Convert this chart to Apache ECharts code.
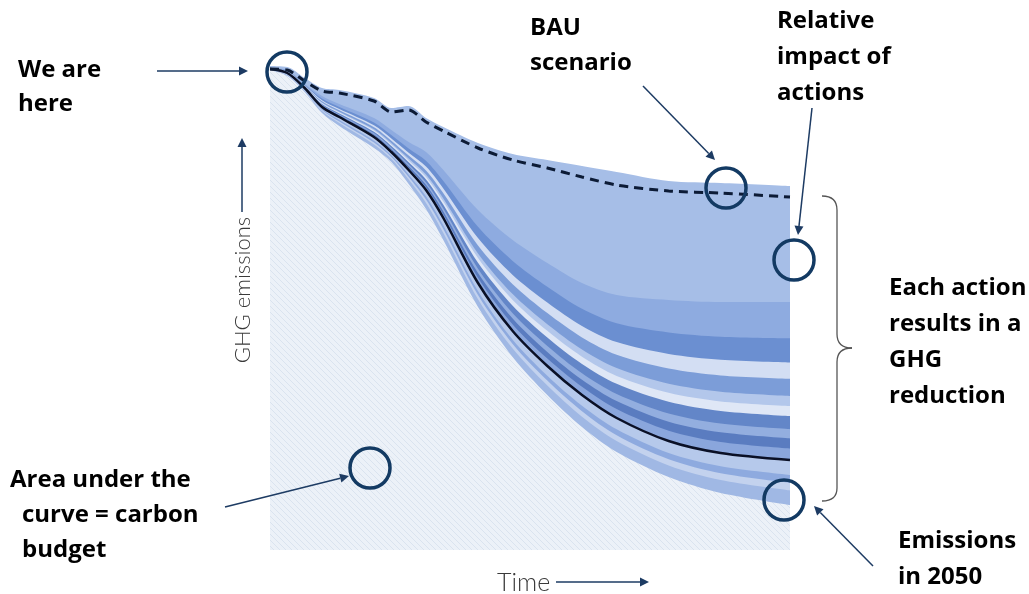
<!DOCTYPE html>
<html><head><meta charset="utf-8">
<script src="https://cdn.jsdelivr.net/npm/echarts@6/dist/echarts.min.js"></script>
<style>html,body{margin:0;padding:0;background:#fff}#c{width:1029px;height:594px}</style>
</head><body><div id="c"></div>
<script>
// x: years, y: GHG emission level (arbitrary units)
const years = [2020, 2021, 2022, 2023, 2024, 2026, 2027, 2028, 2029, 2030, 2032, 2034, 2036, 2038, 2040, 2043, 2046, 2050];

const bauTop  = [484, 483, 472, 462, 460, 452, 442, 444, 432, 423, 407, 396, 390, 384, 378, 369, 367, 364];
const bauLine = [481, 480, 469, 459, 457, 449, 438, 440, 428, 419, 402, 390, 382, 373, 365, 359, 357, 353];
const level1  = [482, 480, 466, 454, 446, 432, 420, 408, 398, 380, 340, 310, 287, 267, 255, 250, 248, 248];
const level2  = [481.8, 479.3, 465.1, 451.5, 443, 427.6, 414.9, 401.6, 389.3, 369, 323.2, 289.1, 263.3, 241.2, 226.7, 217.6, 213.3, 211.7];
const level3  = [481.6, 478.9, 464.5, 449.8, 441, 424.7, 411.6, 397.3, 383.4, 361.6, 312, 275.1, 247.6, 224.1, 207.9, 196, 190.2, 187.5];
const level4  = [481.5, 478.5, 464.1, 448.7, 439.7, 422.8, 409.3, 394.4, 379.5, 356.7, 304.5, 265.8, 236.9, 212.6, 195.2, 181.5, 174.6, 171.2];
const level5  = [481.4, 478.2, 463.6, 447.5, 438.3, 420.7, 406.9, 391.4, 375.4, 351.5, 296.6, 255.9, 225.8, 200.5, 181.9, 166.2, 158.3, 154.1];
const level6  = [481.3, 478, 463.4, 446.8, 437.4, 419.5, 405.5, 389.6, 373, 348.4, 292, 250.1, 219.2, 193.3, 174.1, 157.2, 148.6, 144];
const level7  = [481.3, 477.8, 463.1, 446.1, 436.6, 418.3, 404.1, 387.8, 370.6, 345.3, 287.3, 244.3, 212.6, 186.1, 166.2, 148.2, 139, 133.9];
const level8  = [481.2, 477.6, 462.8, 445.1, 435.5, 416.7, 402.3, 385.5, 367.4, 341.4, 281.2, 236.7, 204.1, 176.8, 156, 136.5, 126.4, 120.8];
const level9  = [481.1, 477.4, 462.5, 444.5, 434.8, 415.6, 401, 383.8, 365.2, 338.6, 277, 231.5, 198.1, 170.3, 148.9, 128.3, 117.7, 111.6];
const level10 = [481.1, 477.2, 462.3, 443.8, 433.9, 414.4, 399.6, 382, 362.8, 335.5, 272.3, 225.6, 191.5, 163.2, 141, 119.3, 108, 101.5];
const levelK  = [481, 477, 462, 443, 433, 413, 398, 380, 360, 332, 267, 219, 184, 155, 132, 109, 97, 90];
const level12 = [480.7, 476, 460.7, 441, 430, 409.3, 394.7, 375.3, 353.7, 324.7, 259, 210.3, 174.3, 144.3, 120.7, 97, 83.7, 75];
const level13 = [480.5, 475.5, 460, 440, 428.5, 407.4, 392.9, 372.9, 350.4, 320.9, 254.9, 205.9, 169.4, 138.8, 114.8, 90.8, 76.8, 67.3];
const level14 = [480.3, 475, 459.3, 438.9, 426.9, 405.6, 391.2, 370.5, 347.1, 317.1, 250.8, 201.4, 164.4, 133.3, 109, 84.6, 69.9, 59.5];
const finalPath = [480, 474, 458, 437, 424, 402, 388, 366, 341, 310, 243, 193, 155, 123, 98, 73, 57, 45];

const bandLevels = [bauTop, level1, level2, level3, level4, level5, level6, level7, level8, level9, level10, levelK, level12, level13, level14];
const bandColors = ['#a6bee7', '#8eabe0', '#6b8fd1', '#d3def3', '#7c9dd8', '#b3c7eb', '#dfe7f6', '#6386c8',
                    '#93aedf', '#5a7cc0', '#8aa6dc', '#b6c9eb', '#8eaadf', '#c3d2ee', '#a0b8e4'];

// hatch pattern for the carbon budget area
const pc = document.createElement('canvas');
pc.width = 6; pc.height = 6;
const g = pc.getContext('2d');
g.fillStyle = '#ecf1f8'; g.fillRect(0, 0, 6, 6);
g.strokeStyle = '#dae3ef'; g.lineWidth = 1;
g.beginPath(); g.moveTo(0, 0); g.lineTo(6, 6); g.moveTo(-3, 3); g.lineTo(3, 9); g.moveTo(3, -3); g.lineTo(9, 3); g.stroke();

const pts = arr => years.map((y, i) => [y, arr[i]]);

const series = bandLevels.map((arr, i) => ({
  type: 'line', name: 'band' + i, data: pts(arr), smooth: 0.3, symbol: 'none', silent: true,
  lineStyle: { opacity: 0 }, areaStyle: { color: bandColors[i], opacity: 1 }, z: 2
}));
series.push({
  type: 'line', name: 'budget', data: pts(finalPath), smooth: 0.3, symbol: 'none', silent: true,
  lineStyle: { opacity: 0 }, areaStyle: { color: { image: pc, repeat: 'repeat' }, opacity: 1 }, z: 2
});
series.push({
  type: 'line', name: 'pathway', data: pts(levelK), smooth: 0.3, symbol: 'none', silent: true,
  lineStyle: { color: '#0a1026', width: 2.5 }, z: 4
});
series.push({
  type: 'line', name: 'BAU', data: pts(bauLine), smooth: 0.25, symbol: 'none', silent: true,
  lineStyle: { color: '#0c1b36', width: 3, type: [9, 6] }, z: 5
});

const NAVY = '#1d3b63', RING = '#133a63';
function arrow(x1, y1, x2, y2) {
  const a = Math.atan2(y2 - y1, x2 - x1), L = 9, W = 4.5;
  const bx = x2 - L * Math.cos(a), by = y2 - L * Math.sin(a);
  return [
    { type: 'line', z: 10, shape: { x1, y1, x2: bx, y2: by }, style: { stroke: NAVY, lineWidth: 1.5 } },
    { type: 'polygon', z: 10, shape: { points: [[x2, y2], [bx + W * Math.sin(a), by - W * Math.cos(a)], [bx - W * Math.sin(a), by + W * Math.cos(a)]] }, style: { fill: NAVY } }
  ];
}
function ring(cx, cy) {
  return { type: 'circle', z: 11, shape: { cx, cy, r: 20 }, style: { fill: 'none', stroke: RING, lineWidth: 3.5 } };
}
const BR = { stroke: '#555', lineWidth: 1.3, fill: 'none' };
function seg(x1, y1, x2, y2) { return { type: 'line', z: 10, shape: { x1, y1, x2, y2 }, style: BR }; }
function curve(x1, y1, cx, cy, x2, y2) { return { type: 'bezierCurve', z: 10, shape: { x1, y1, cpx1: cx, cpy1: cy, x2, y2 }, style: BR }; }

const BOLD = 'bold 24px "Open Sans"';
function label(text, x, y) {
  return { type: 'text', z: 10, x, y, style: { text, font: BOLD, fill: '#000', align: 'left', verticalAlign: 'middle' } };
}

const graphics = [
  label('We are', 18, 70), label('here', 18, 104),
  label('BAU', 530, 28), label('scenario', 530, 63),
  label('Relative', 777, 21), label('impact of', 777, 57), label('actions', 777, 93),
  label('Each action', 889, 288), label('results in a', 889, 324), label('GHG', 889, 360), label('reduction', 889, 396),
  label('Area under the', 10, 480), label('curve = carbon', 22, 515), label('budget', 22, 550),
  label('Emissions', 898, 541), label('in 2050', 898, 577),
  { type: 'text', z: 10, x: 243, y: 290, rotation: Math.PI / 2,
    style: { text: 'GHG emissions', font: '300 22px Lato', fill: '#3a3a3a', align: 'center', verticalAlign: 'middle' } },
  { type: 'text', z: 10, x: 497, y: 583,
    style: { text: 'Time', font: '300 25px Lato', fill: '#3a3a3a', align: 'left', verticalAlign: 'middle' } },
  ...arrow(157, 71, 248, 71),
  ...arrow(242, 212, 242, 138),
  ...arrow(556, 582, 649, 582),
  ...arrow(643, 86, 715, 160),
  ...arrow(812, 108, 798, 235),
  ...arrow(225, 507, 349, 476),
  ...arrow(873, 566, 814, 506),
  curve(822, 196, 837, 196, 837, 210), seg(837, 210, 837, 334),
  curve(837, 334, 837, 348, 852, 348), curve(852, 348, 837, 348, 837, 362),
  seg(837, 362, 837, 488), curve(837, 488, 837, 501, 822, 501),
  ring(287, 72), ring(726, 188), ring(794, 260), ring(370, 468), ring(784, 500)
];

const chart = echarts.init(document.getElementById('c'), null, { renderer: 'canvas' });
chart.setOption({
  animation: false,
  backgroundColor: '#fff',
  grid: { left: 270, right: 239, top: 50, bottom: 44 },
  xAxis: { type: 'value', min: 2020, max: 2050, show: false },
  yAxis: { type: 'value', min: 0, max: 500, show: false },
  series,
  graphic: graphics
});
</script></body></html>
